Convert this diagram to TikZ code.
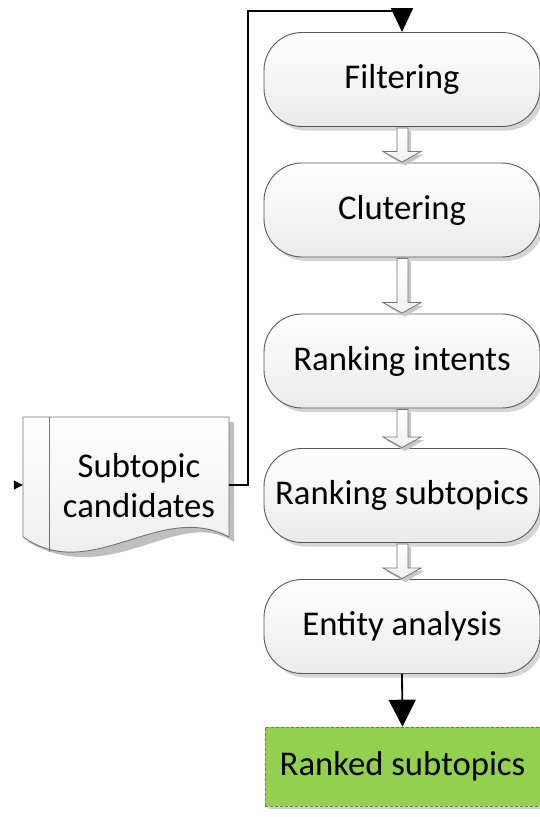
\documentclass[tikz,border=0pt]{standalone}
\usepackage{fontspec}
\setmainfont{Carlito}
\usetikzlibrary{arrows.meta,shadows,calc}
\definecolor{rgreen}{HTML}{92D050}
\definecolor{bord}{HTML}{595959}
\tikzset{
  term/.style={draw=bord, line width=0.9pt, rounded corners=38pt,
    top color=white, bottom color=black!8,
    minimum width=276pt, minimum height=94pt, inner sep=0pt,
    font=\fontsize{34.7}{40}\selectfont,
    drop shadow={shadow xshift=4pt, shadow yshift=-4pt, fill=black!30, opacity=0.55}},
  result/.style={draw=black!55, densely dashed, line width=0.6pt, fill=rgreen,
    minimum width=275pt, minimum height=79pt, inner sep=0pt,
    font=\fontsize{34.7}{40}\selectfont,
    drop shadow={shadow xshift=3pt, shadow yshift=-3pt, fill=black!35, opacity=0.5, solid}},
  conn/.style={draw=black, line width=1.8pt},
  hollow/.style={draw=black!55, line width=0.8pt, top color=white, bottom color=black!6},
  hshadow/.style={fill=black!22, draw=none},
  doctext/.style={font=\fontsize{34.7}{40}\selectfont, align=center, inner sep=0pt}
}
\newcommand{\hollowarr}[2]{%
  \fill[hshadow] ([xshift=-3pt,yshift=-4pt]#1.south) -- ([xshift=-3pt,yshift=8pt]#2.north) -- ([xshift=-16pt,yshift=8pt]#2.north) -- ([xshift=3pt,yshift=-3pt]#2.north) -- ([xshift=22pt,yshift=8pt]#2.north) -- ([xshift=9pt,yshift=8pt]#2.north) -- ([xshift=9pt,yshift=-4pt]#1.south) -- cycle;
  \path[hollow] ([xshift=-5pt,yshift=-1pt]#1.south) -- ([xshift=-5pt,yshift=11pt]#2.north) -- ([xshift=-19pt,yshift=11pt]#2.north) -- ([yshift=0.5pt]#2.north) -- ([xshift=19pt,yshift=11pt]#2.north) -- ([xshift=6pt,yshift=11pt]#2.north) -- ([xshift=6pt,yshift=-1pt]#1.south) -- cycle;
}
\begin{document}
\begin{tikzpicture}[x=1pt,y=-1pt]
\useasboundingbox (0,0) rectangle (539,817);

% document shape
\node[minimum width=206pt, minimum height=136pt, inner sep=0pt] (doc) at (126,485) {};
\fill[black!25] (28,422) -- (234,422) -- (234,542) .. controls (178,505) and (113,590) .. (28,542) -- cycle;
\path[draw=black!55, line width=0.9pt, top color=white, bottom color=black!8]
  (23,417) -- (229,417) -- (229,537) .. controls (160,500) and (92,585) .. (23,537) -- cycle;
\draw[black!55, line width=0.9pt] (49,417) -- (49,552);
\node[doctext] (dt) at (139,486) {Subtopic\\candidates};

% process nodes
\node[term] (f) at (402,79.5) {Filtering};
\node[term] (c) at (402,210) {Clutering};
\node[term] (ri) at (402,361) {Ranking intents};
\node[term] (rs) at (402,495.5) {Ranking subtopics};
\node[term] (e) at (402,626.5) {Entity analysis};
\node[result] (r) at (402.5,766.5) {Ranked subtopics};

% hollow arrows
\hollowarr{f}{c}
\hollowarr{c}{ri}
\hollowarr{ri}{rs}
\hollowarr{rs}{e}

% connectors
\coordinate (in) at (14,485);
\draw[line width=0.8pt, -{Triangle[length=9pt,width=9pt]}] (in) -- (doc.west);
\coordinate (top) at (248,11);
\draw[conn, -{Triangle[length=24pt,width=22pt]}] (doc.east) -| (top) -| (f.north);
\draw[conn, -{Triangle[length=27pt,width=27pt]}] (e.south) -- (r.north);
\end{tikzpicture}
\end{document}
